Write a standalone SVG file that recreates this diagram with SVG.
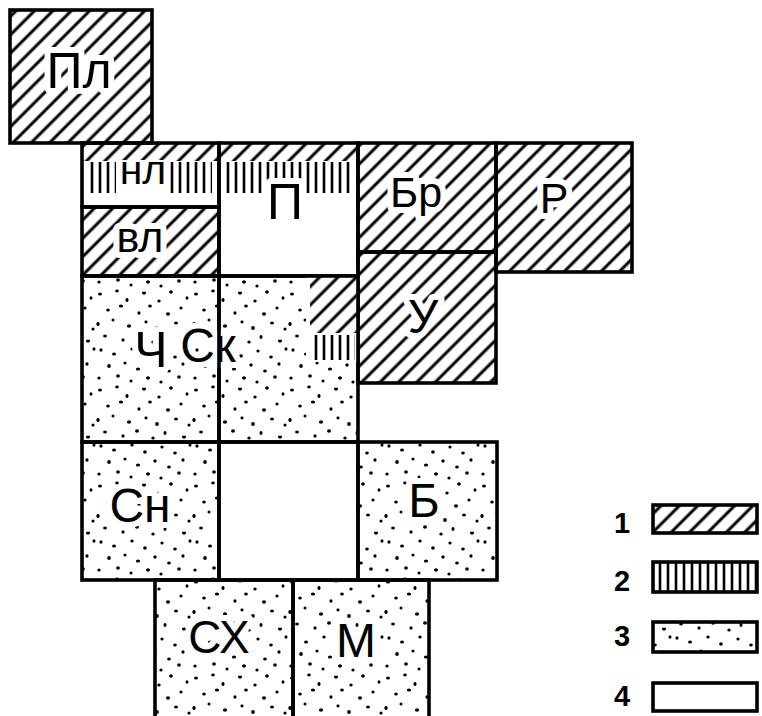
<svg xmlns="http://www.w3.org/2000/svg" width="762" height="716" viewBox="0 0 762 716">
<defs>
<pattern id="hatch" patternUnits="userSpaceOnUse" width="13" height="13" patternTransform="rotate(45)">
<line x1="6" y1="-1" x2="6" y2="14" stroke="#000" stroke-width="3"/>
</pattern>
<pattern id="vstripe" patternUnits="userSpaceOnUse" width="8" height="40" x="1">
<line x1="3" y1="0" x2="3" y2="40" stroke="#000" stroke-width="2.6"/>
</pattern>
<pattern id="dots" patternUnits="userSpaceOnUse" width="96" height="96">
<g fill="#000">
<ellipse cx="4" cy="6" rx="2" ry="1.6"/>
<ellipse cx="21" cy="3" rx="1.8" ry="1.4"/>
<ellipse cx="31" cy="12" rx="1.6" ry="2"/>
<ellipse cx="48" cy="5" rx="2.1" ry="1.6"/>
<ellipse cx="63" cy="13" rx="1.7" ry="1.5"/>
<ellipse cx="75" cy="4" rx="1.9" ry="1.7"/>
<ellipse cx="91" cy="10" rx="1.5" ry="1.8"/>
<ellipse cx="12" cy="22" rx="1.8" ry="1.6"/>
<ellipse cx="25" cy="18" rx="2.2" ry="1.5"/>
<ellipse cx="43" cy="25" rx="1.6" ry="1.7"/>
<ellipse cx="54" cy="18" rx="1.9" ry="1.6"/>
<ellipse cx="72" cy="26" rx="2" ry="1.8"/>
<ellipse cx="85" cy="20" rx="1.6" ry="1.5"/>
<ellipse cx="2" cy="36" rx="1.7" ry="1.9"/>
<ellipse cx="17" cy="32" rx="1.5" ry="1.6"/>
<ellipse cx="33" cy="38" rx="2.1" ry="1.7"/>
<ellipse cx="50" cy="34" rx="1.6" ry="1.4"/>
<ellipse cx="61" cy="40" rx="1.8" ry="1.9"/>
<ellipse cx="80" cy="35" rx="2" ry="1.6"/>
<ellipse cx="93" cy="41" rx="1.6" ry="1.6"/>
<ellipse cx="9" cy="48" rx="1.9" ry="1.5"/>
<ellipse cx="27" cy="52" rx="1.6" ry="1.8"/>
<ellipse cx="41" cy="47" rx="2" ry="1.7"/>
<ellipse cx="57" cy="54" rx="1.7" ry="1.5"/>
<ellipse cx="69" cy="49" rx="1.5" ry="1.9"/>
<ellipse cx="88" cy="53" rx="2.1" ry="1.6"/>
<ellipse cx="5" cy="62" rx="1.6" ry="1.7"/>
<ellipse cx="18" cy="66" rx="2" ry="1.6"/>
<ellipse cx="36" cy="61" rx="1.7" ry="1.5"/>
<ellipse cx="49" cy="68" rx="1.9" ry="1.8"/>
<ellipse cx="66" cy="63" rx="1.6" ry="1.6"/>
<ellipse cx="79" cy="69" rx="1.8" ry="1.5"/>
<ellipse cx="94" cy="61" rx="1.5" ry="1.7"/>
<ellipse cx="13" cy="78" rx="1.8" ry="1.9"/>
<ellipse cx="29" cy="75" rx="1.6" ry="1.5"/>
<ellipse cx="42" cy="81" rx="2.1" ry="1.6"/>
<ellipse cx="59" cy="77" rx="1.7" ry="1.8"/>
<ellipse cx="73" cy="83" rx="1.9" ry="1.5"/>
<ellipse cx="87" cy="76" rx="1.6" ry="1.7"/>
<ellipse cx="3" cy="90" rx="1.7" ry="1.5"/>
<ellipse cx="22" cy="88" rx="1.9" ry="1.7"/>
<ellipse cx="35" cy="93" rx="1.5" ry="1.6"/>
<ellipse cx="52" cy="90" rx="2" ry="1.7"/>
<ellipse cx="65" cy="94" rx="1.6" ry="1.5"/>
<ellipse cx="83" cy="89" rx="1.8" ry="1.8"/>
</g>
</pattern>
</defs>
<style>
.b{fill:none;stroke:#000;stroke-width:3.6;}
.h{fill:url(#hatch);}
.d{fill:url(#dots);}
.v{fill:url(#vstripe);}
.w{fill:#fff;}
.t{font-family:"Liberation Sans",Arial,sans-serif;font-size:46px;text-anchor:middle;fill:#000;stroke:#fff;stroke-width:12px;stroke-linejoin:round;paint-order:stroke;}
.n{font-family:"Liberation Sans",Arial,sans-serif;font-size:29px;font-weight:bold;text-anchor:middle;fill:#000;}
</style>
<rect width="762" height="716" fill="#fff"/>

<g id="node-Pl">
<rect class="h" x="10" y="10" width="142" height="133"/>
<text class="t" x="79" y="88" style="font-size:50px">Пл</text>
<rect class="b" x="10" y="10" width="142" height="133"/>
</g>

<g id="node-nl">
<rect class="h" x="82" y="143" width="137" height="18"/>
<rect class="v" x="86" y="162" width="126" height="31"/>
<rect class="w" x="116" y="160" width="54" height="34"/>
<text class="t" x="143" y="184" style="font-size:41px;stroke-width:0">нл</text>
<rect class="b" x="82" y="143" width="137" height="64"/>
</g>

<g id="node-vl">
<rect class="h" x="82" y="207" width="137" height="69"/>
<text class="t" x="140" y="252" style="font-size:43px">вл</text>
<rect class="b" x="82" y="207" width="137" height="69"/>
</g>

<g id="node-P">
<rect class="h" x="219" y="143" width="139" height="18"/>
<rect class="v" x="222" y="162" width="132" height="31"/>
<text class="t" x="285" y="219" style="font-size:50px">П</text>
<rect class="b" x="219" y="143" width="139" height="133"/>
</g>

<g id="node-Br">
<rect class="h" x="358" y="143" width="138" height="109"/>
<text class="t" x="416" y="207" style="font-size:43px">Бр</text>
<rect class="b" x="358" y="143" width="138" height="109"/>
</g>

<g id="node-R">
<rect class="h" x="496" y="143" width="136" height="129"/>
<text class="t" x="554" y="213" style="font-size:43px">Р</text>
<rect class="b" x="496" y="143" width="136" height="129"/>
</g>

<g id="node-U">
<rect class="h" x="358" y="252" width="138" height="131"/>
<text class="t" x="423" y="333" style="font-size:48px">У</text>
<rect class="b" x="358" y="252" width="138" height="131"/>
</g>

<g id="node-Ch">
<rect class="d" x="82" y="276" width="137" height="166"/>
<text class="t" x="151" y="367" style="font-size:50px">Ч</text>
<rect class="b" x="82" y="276" width="137" height="166"/>
</g>

<g id="node-Sk">
<rect class="d" x="219" y="276" width="139" height="166"/>
<rect class="w" x="306" y="276" width="52" height="86"/>
<rect class="h" x="310" y="276" width="48" height="57"/>
<rect class="v" x="310" y="335" width="45" height="25"/>
<text class="t" x="208" y="362" style="font-size:48px">Ск</text>
<rect class="b" x="219" y="276" width="139" height="166"/>
</g>

<g id="node-Sn">
<rect class="d" x="82" y="442" width="137" height="138"/>
<text class="t" x="140" y="522" style="font-size:48px">Сн</text>
<rect class="b" x="82" y="442" width="137" height="138"/>
</g>

<g id="node-empty">
<rect class="b" x="219" y="442" width="139" height="138"/>
</g>

<g id="node-B">
<rect class="d" x="358" y="442" width="139" height="138"/>
<text class="t" x="424" y="517" style="font-size:48px">Б</text>
<rect class="b" x="358" y="442" width="139" height="138"/>
</g>

<g id="node-SKh">
<rect class="d" x="155" y="580" width="138" height="145"/>
<text class="t" x="219" y="653" style="font-size:46px">СХ</text>
<rect class="b" x="155" y="580" width="138" height="145"/>
</g>

<g id="node-M">
<rect class="d" x="293" y="580" width="136" height="145"/>
<text class="t" x="356" y="657" style="font-size:48px">М</text>
<rect class="b" x="293" y="580" width="136" height="145"/>
</g>

<g id="legend">
<g id="legend-1">
<text class="n" x="622" y="533">1</text>
<rect class="h" x="653" y="505" width="104" height="28"/>
<rect class="b" x="653" y="505" width="104" height="28"/>
</g>
<g id="legend-2">
<text class="n" x="622" y="591">2</text>
<rect class="v" x="653" y="562" width="104" height="30"/>
<rect class="b" x="653" y="562" width="104" height="30"/>
</g>
<g id="legend-3">
<text class="n" x="622" y="646">3</text>
<rect class="d" x="653" y="622" width="104" height="30"/>
<rect class="b" x="653" y="622" width="104" height="30"/>
</g>
<g id="legend-4">
<text class="n" x="622" y="706">4</text>
<rect class="b" x="653" y="683" width="104" height="28"/>
</g>
</g>
</svg>
